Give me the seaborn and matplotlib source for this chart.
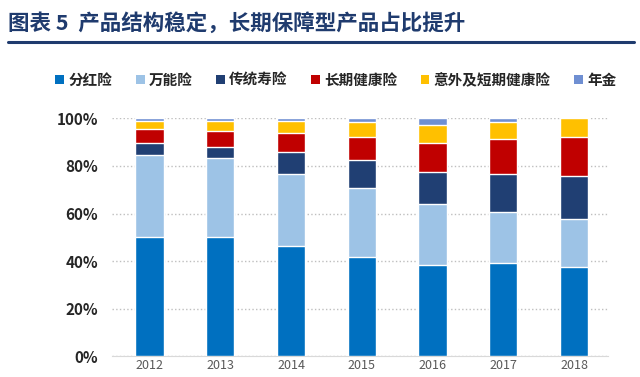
import pandas as pd
import seaborn as sns
import matplotlib.pyplot as plt
from matplotlib.patches import Patch
from matplotlib.lines import Line2D

# 数据：各年份产品结构占比（%）
years = ['2012', '2013', '2014', '2015', '2016', '2017', '2018']
fenhong = [50.1, 50.0, 46.3, 41.8, 38.5, 39.2, 37.5]
wanneng = [34.6, 33.3, 30.5, 28.9, 25.6, 21.5, 20.1]
chuantong = [4.8, 4.5, 9.2, 12.0, 13.4, 15.8, 18.3]
changqi = [5.9, 7.1, 8.0, 9.6, 12.3, 14.7, 16.4]
yiwai = [3.7, 4.2, 4.7, 6.2, 7.6, 7.1, 7.7]
nianjin = [0.9, 0.9, 1.3, 1.5, 2.6, 1.7, 0.0]

names = ['分红险', '万能险', '传统寿险', '长期健康险', '意外及短期健康险', '年金']
colors = ['#0070C0', '#9DC3E6', '#203F73', '#C00000', '#FFC000', '#6F8FD2']

df = pd.DataFrame({'年份': years, '分红险': fenhong, '万能险': wanneng,
                   '传统寿险': chuantong, '长期健康险': changqi,
                   '意外及短期健康险': yiwai, '年金': nianjin})

sns.set_style('white')
plt.rcParams['font.family'] = ['Noto Sans CJK SC', 'DejaVu Sans']

fig = plt.figure(figsize=(6.4, 3.77), dpi=100)
ax = fig.add_axes([0.175, 0.055, 0.775, 0.631])

# 堆叠：从顶层开始画累计值，下层覆盖
cum = df[names].cumsum(axis=1)
for name, c in reversed(list(zip(names, colors))):
    sns.barplot(x=df['年份'], y=cum[name], color=c, width=0.4,
                saturation=1, ax=ax, zorder=3)

ax.set_ylim(0, 100)
ax.set_xlim(-0.53, 6.48)
ax.set_yticks(range(0, 101, 20))
ax.set_yticklabels([f'{v}%' for v in range(0, 101, 20)],
                   fontsize=11, fontweight='bold', color='#262626')
ax.tick_params(axis='y', length=0, pad=10)
ax.tick_params(axis='x', length=0, pad=2, labelsize=9, labelcolor='#595959')
ax.set_xlabel('')
ax.set_ylabel('')
ax.grid(axis='y', linestyle=':', color='#BFBFBF', linewidth=1, zorder=0)
for s in ['left', 'top', 'right']:
    ax.spines[s].set_visible(False)
ax.spines['bottom'].set_color('#D9D9D9')

# 图例
handles = [Patch(facecolor=c, edgecolor='none', label=n) for n, c in zip(names, colors)]
fig.legend(handles=handles, loc='center', bbox_to_anchor=(0.525, 0.788), ncol=6,
           frameon=False, handlelength=0.6, handleheight=0.6, handletextpad=0.3,
           columnspacing=1.6, prop={'size': 10.5, 'weight': 'bold'})

# 标题与下划线
fig.text(0.013, 0.94, '图表 5  产品结构稳定，长期保障型产品占比提升', fontsize=15.5,
         fontweight='bold', color='#1F3B6E', va='center', ha='left')
fig.add_artist(Line2D([0.013, 0.99], [0.888, 0.888], color='#1F3B6E', linewidth=2.2))

fig.savefig('out.png', dpi=100)
